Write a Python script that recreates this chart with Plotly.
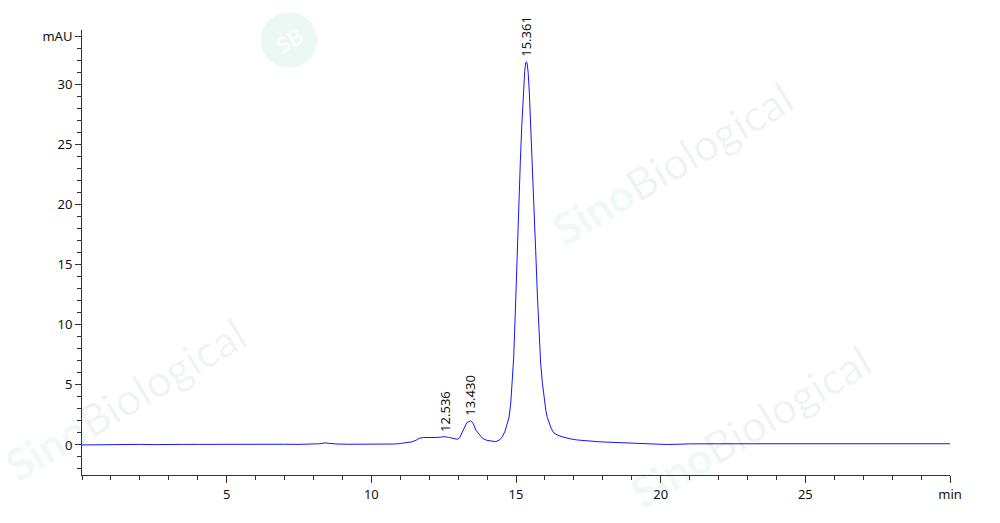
import plotly.graph_objects as go

# retention time (min) and absorbance (mAU)
time_min = [0.0, 0.5, 1.0, 1.5, 2.0, 2.5, 3.0, 3.5, 4.0, 4.5, 5.0, 5.5, 6.0, 6.5, 7.0, 7.5,
            8.0, 8.2, 8.4, 8.6, 8.8, 9.2, 9.6, 10.0, 10.4, 10.8, 11.0, 11.2, 11.4, 11.55,
            11.65, 11.8, 12.0, 12.2, 12.4, 12.536, 12.7, 12.85, 12.97, 13.05, 13.12, 13.2,
            13.3, 13.43, 13.52, 13.61, 13.7, 13.84, 14.0, 14.15, 14.3, 14.42, 14.53, 14.62,
            14.7, 14.76, 14.82, 14.87, 14.92, 14.97, 15.03, 15.09, 15.15, 15.2, 15.25, 15.3,
            15.335, 15.361, 15.39, 15.42, 15.46, 15.5, 15.56, 15.62, 15.68, 15.74, 15.79,
            15.85, 15.91, 15.97, 16.03, 16.08, 16.15, 16.22, 16.31, 16.45, 16.6, 16.71,
            16.9, 17.1, 17.3, 17.52, 17.8, 18.1, 18.55, 19.0, 19.4, 19.8, 20.2, 20.6, 21.0,
            22.0, 23.0, 24.0, 25.0, 26.0, 27.0, 28.0, 29.0, 30.0]
absorbance = [0.00, 0.02, 0.01, 0.04, 0.05, 0.03, 0.07, 0.05, 0.05, 0.06, 0.06, 0.04, 0.05, 0.06, 0.06, 0.05,
              0.08, 0.10, 0.17, 0.12, 0.08, 0.06, 0.05, 0.04, 0.06, 0.08, 0.12, 0.18, 0.26, 0.40,
              0.55, 0.62, 0.60, 0.62, 0.65, 0.69, 0.62, 0.52, 0.47, 0.60, 0.95, 1.39,
              1.85, 2.02, 1.80, 1.25, 0.95, 0.56, 0.38, 0.30, 0.28, 0.40, 0.69, 1.15,
              1.70, 2.30, 3.50, 5.20, 7.30, 10.6, 15.4, 19.6, 23.6, 26.6, 29.3, 31.1,
              31.8, 31.9, 31.7, 31.0, 29.4, 27.2, 23.8, 19.9, 16.2, 12.4, 9.3,
              6.9, 5.2, 3.9, 2.9, 2.3, 1.75, 1.35, 1.00, 0.80, 0.68, 0.60,
              0.50, 0.42, 0.37, 0.33, 0.28, 0.24, 0.20, 0.14, 0.08, 0.05, 0.04, 0.06, 0.09,
              0.10, 0.10, 0.10, 0.10, 0.10, 0.10, 0.10, 0.10, 0.10]

peak_times = [12.536, 13.430, 15.361]
peak_heights = [0.69, 2.02, 31.9]
peak_labels = ["12.536", "13.430", "15.361"]

y_tick_vals = [0, 5, 10, 15, 20, 25, 30, 34]
y_tick_text = ["0", "5", "10", "15", "20", "25", "30", "mAU"]
x_tick_vals = [5, 10, 15, 20, 25, 30]
x_tick_text = ["5", "10", "15", "20", "25", "min"]

FONT = "Noto Sans"

fig = go.Figure()
fig.add_trace(go.Scatter(x=time_min, y=absorbance, mode="lines",
                         line=dict(color="#1414ff", width=1), hoverinfo="skip"))

# faint, semi-transparent watermarks (labels underneath stay readable)
wm = ('<span style="color:rgba(0,175,120,0.08)"><b>Sino</b></span>'
      '<span style="color:rgba(0,70,45,0.06)">Biological</span>')
for (xp, yp) in [(0.680, 0.701), (0.050, 0.170), (0.770, 0.110)]:
    fig.add_annotation(x=xp, y=yp, xref="paper", yref="paper", text=wm, showarrow=False,
                       xanchor="center", yanchor="middle",
                       textangle=-31, font=dict(family="Lato", size=44))
fig.add_shape(type="circle", xref="paper", yref="paper", x0=0.206, x1=0.271, y0=0.915, y1=1.040,
              fillcolor="#ebf8f3", line=dict(width=0), layer="below")
fig.add_annotation(x=0.2385, y=0.9775, xref="paper", yref="paper", text="<b>SB</b>",
                   showarrow=False, xanchor="center", yanchor="middle", textangle=-31,
                   font=dict(family="Lato", size=22, color="#fbfefd"))

for t, h, lab in zip(peak_times, peak_heights, peak_labels):
    fig.add_annotation(x=t, y=h, text=lab, showarrow=False, textangle=-90,
                       yanchor="bottom", xanchor="center", yshift=3,
                       font=dict(family=FONT, size=13, color="#111111"))

# page body has an 8px margin, so the figure is offset by 8px
fig.update_layout(
    width=984, height=507,
    margin=dict(l=74, r=42, t=22, b=40),
    paper_bgcolor="white", plot_bgcolor="white",
    showlegend=False,
    font=dict(family=FONT, size=13, color="#111111"),
)
fig.update_xaxes(range=[0, 30], showgrid=False, zeroline=False,
                 showline=True, linecolor="#333333", linewidth=1,
                 tickmode="array", tickvals=x_tick_vals, ticktext=x_tick_text,
                 ticks="outside", ticklen=7, tickcolor="#333333",
                 minor=dict(dtick=1, ticks="outside", ticklen=4, tickcolor="#333333"))
fig.update_yaxes(range=[-2.5, 34.55], showgrid=False, zeroline=False,
                 showline=True, linecolor="#333333", linewidth=1,
                 tickmode="array", tickvals=y_tick_vals, ticktext=y_tick_text,
                 ticks="outside", ticklen=6, tickcolor="#333333",
                 minor=dict(dtick=1, tick0=0, ticks="outside", ticklen=4, tickcolor="#333333"))

fig.write_html("out.html")
